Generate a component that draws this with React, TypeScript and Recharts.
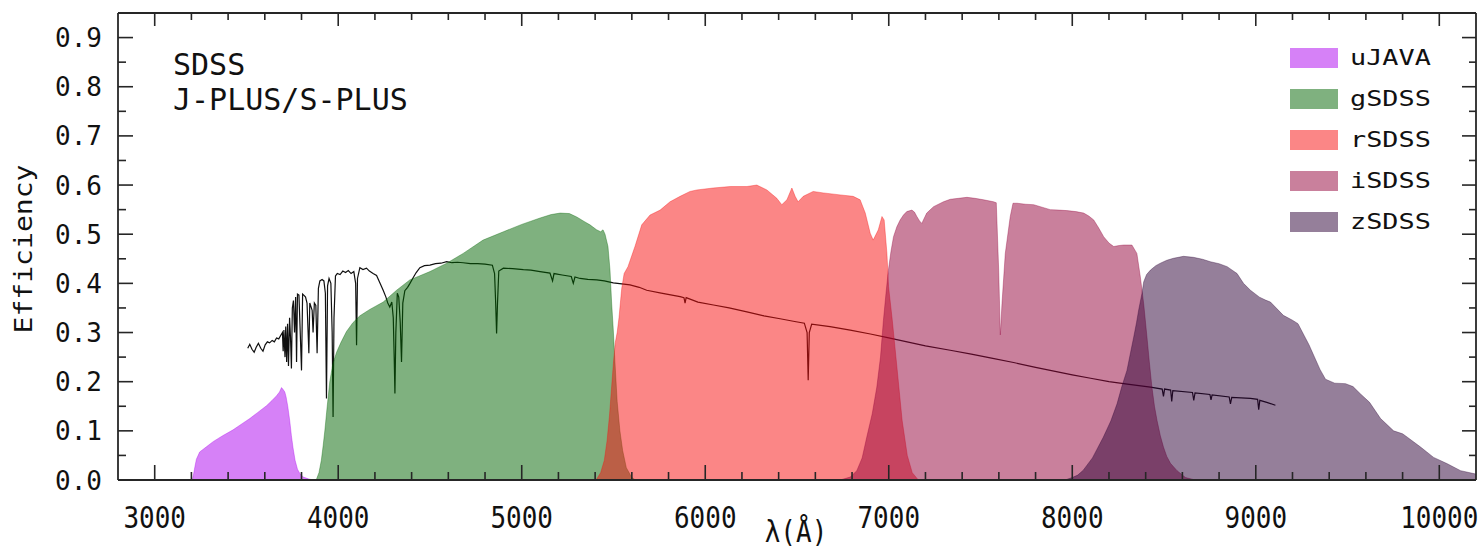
import React from 'react';
import { ComposedChart, Area, Line, XAxis, YAxis, Legend } from 'recharts';

const FONT = '"DejaVu Sans Mono", "Liberation Mono", monospace';
const INK = '#111111';
const FRAME = '#262626';

// Chart box: plot frame runs from (118, 13) to (1476, 480)
const CHART_W = 1483;
const CHART_H = 548;
const PLOT_TOP = 13;
const PLOT_RIGHT = 1476;

// Filter transmission curves: [wavelength (Å), efficiency]
const uJAVA: [number, number][] = [
  [3205, 0], [3212, 0.012], [3218, 0.025], [3227, 0.042], [3245, 0.057], [3280, 0.067], [3318, 0.078],
  [3370, 0.09], [3427, 0.102], [3470, 0.113], [3518, 0.125], [3560, 0.137], [3609, 0.151], [3640, 0.162],
  [3663, 0.171], [3680, 0.179], [3691, 0.188], [3700, 0.184], [3709, 0.179], [3716, 0.169], [3725, 0.15],
  [3736, 0.12], [3745, 0.09], [3754, 0.065], [3765, 0.04], [3778, 0.022], [3791, 0.013], [3810, 0.006],
  [3840, 0.002], [3865, 0],
];

const gSDSS: [number, number][] = [
  [3880, 0], [3895, 0.015], [3908, 0.04], [3918, 0.07], [3927, 0.1], [3940, 0.15], [3954, 0.2], [3970, 0.235],
  [3991, 0.26], [4015, 0.28], [4045, 0.302], [4080, 0.32], [4118, 0.334], [4172, 0.347], [4245, 0.362],
  [4318, 0.386], [4390, 0.407], [4500, 0.424], [4591, 0.441], [4681, 0.461], [4789, 0.488], [4900, 0.505],
  [5000, 0.52], [5100, 0.533], [5160, 0.54], [5210, 0.543], [5260, 0.542], [5300, 0.535], [5340, 0.526],
  [5372, 0.519], [5408, 0.509], [5430, 0.505], [5443, 0.509], [5454, 0.5], [5470, 0.475], [5481, 0.427],
  [5490, 0.36], [5499, 0.305], [5508, 0.24], [5520, 0.16], [5535, 0.1], [5550, 0.06], [5570, 0.025],
  [5600, 0.005], [5620, 0],
];

const rSDSS: [number, number][] = [
  [5405, 0], [5430, 0.015], [5450, 0.04], [5465, 0.08], [5478, 0.13], [5490, 0.19], [5500, 0.24], [5510, 0.28],
  [5520, 0.3], [5530, 0.33], [5545, 0.39], [5558, 0.42], [5579, 0.434], [5617, 0.475], [5654, 0.519],
  [5699, 0.539], [5754, 0.549], [5808, 0.566], [5863, 0.577], [5917, 0.587], [5954, 0.59], [6043, 0.594],
  [6136, 0.597], [6227, 0.597], [6281, 0.6], [6336, 0.59], [6390, 0.573], [6417, 0.56], [6445, 0.57],
  [6472, 0.594], [6490, 0.577], [6506, 0.566], [6534, 0.577], [6588, 0.587], [6643, 0.584], [6735, 0.58],
  [6806, 0.577], [6844, 0.57], [6872, 0.543], [6899, 0.502], [6915, 0.488], [6943, 0.509], [6963, 0.536],
  [6975, 0.529], [6990, 0.461], [6999, 0.393], [7019, 0.326], [7046, 0.224], [7073, 0.121], [7101, 0.05],
  [7128, 0.015], [7161, 0],
];

const iSDSS: [number, number][] = [
  [6735, 0], [6790, 0.006], [6826, 0.019], [6855, 0.045], [6880, 0.087], [6910, 0.135], [6935, 0.189],
  [6955, 0.25], [6971, 0.325], [6985, 0.38], [6998, 0.427], [7012, 0.465], [7026, 0.495], [7044, 0.515],
  [7062, 0.529], [7080, 0.539], [7098, 0.546], [7126, 0.549], [7140, 0.545], [7153, 0.536], [7168, 0.527],
  [7180, 0.522], [7194, 0.533], [7207, 0.543], [7244, 0.556], [7298, 0.566], [7335, 0.571], [7380, 0.573],
  [7426, 0.575], [7470, 0.573], [7517, 0.57], [7571, 0.566], [7586, 0.564], [7599, 0.427], [7608, 0.295],
  [7617, 0.359], [7635, 0.461], [7662, 0.536], [7677, 0.563], [7699, 0.563], [7745, 0.561], [7790, 0.56],
  [7835, 0.555], [7880, 0.55], [7930, 0.549], [7971, 0.548], [8020, 0.546], [8062, 0.543], [8090, 0.537],
  [8117, 0.529], [8145, 0.512], [8171, 0.495], [8200, 0.482], [8226, 0.475], [8255, 0.477], [8280, 0.478],
  [8325, 0.478], [8352, 0.461], [8371, 0.413], [8389, 0.359], [8407, 0.291], [8420, 0.24], [8434, 0.189],
  [8448, 0.15], [8462, 0.121], [8480, 0.09], [8497, 0.067], [8515, 0.048], [8535, 0.034], [8571, 0.019],
  [8617, 0.005], [8671, 0],
];

const zSDSS: [number, number][] = [
  [7960, 0], [8000, 0.005], [8030, 0.01], [8060, 0.02], [8110, 0.045], [8169, 0.087], [8210, 0.12],
  [8244, 0.155], [8270, 0.19], [8298, 0.223], [8318, 0.26], [8335, 0.291], [8350, 0.32], [8362, 0.346],
  [8380, 0.38], [8389, 0.403], [8405, 0.418], [8426, 0.427], [8455, 0.436], [8480, 0.441], [8515, 0.447],
  [8551, 0.451], [8606, 0.455], [8660, 0.453], [8710, 0.449], [8753, 0.444], [8800, 0.44], [8844, 0.434],
  [8898, 0.42], [8933, 0.4], [8971, 0.386], [9020, 0.372], [9053, 0.366], [9080, 0.362], [9150, 0.335],
  [9200, 0.325], [9230, 0.318], [9290, 0.275], [9350, 0.225], [9380, 0.205], [9430, 0.197], [9489, 0.196],
  [9530, 0.19], [9571, 0.175], [9620, 0.158], [9680, 0.125], [9751, 0.1], [9800, 0.094], [9826, 0.087],
  [9898, 0.067], [9969, 0.046], [10044, 0.033], [10116, 0.019], [10200, 0.012],
];

// Stellar spectrum overlaid on the filters: [wavelength (Å), scaled flux]
const spectrum: [number, number][] = [
  [3507, 0.268], [3518, 0.276], [3530, 0.266], [3542, 0.26], [3553, 0.27], [3565, 0.278], [3578, 0.268],
  [3590, 0.262], [3602, 0.275], [3614, 0.281], [3626, 0.279], [3640, 0.284], [3652, 0.281], [3664, 0.289],
  [3676, 0.287], [3688, 0.295], [3696, 0.3], [3700, 0.262], [3704, 0.305], [3710, 0.25], [3714, 0.312],
  [3719, 0.24], [3724, 0.318], [3729, 0.232], [3735, 0.33], [3740, 0.29], [3745, 0.227], [3750, 0.35],
  [3756, 0.365], [3762, 0.3], [3768, 0.372], [3773, 0.24], [3778, 0.378], [3786, 0.376], [3793, 0.3],
  [3800, 0.223], [3806, 0.378], [3815, 0.375], [3822, 0.372], [3830, 0.36], [3836, 0.3], [3840, 0.258],
  [3845, 0.36], [3852, 0.352], [3858, 0.345], [3863, 0.3], [3870, 0.36], [3878, 0.355], [3885, 0.258],
  [3892, 0.39], [3900, 0.405], [3912, 0.408], [3922, 0.405], [3930, 0.38], [3936, 0.166], [3942, 0.395],
  [3950, 0.41], [3960, 0.4], [3967, 0.3], [3972, 0.128], [3977, 0.33], [3985, 0.415], [3995, 0.42],
  [4010, 0.418], [4025, 0.425], [4040, 0.422], [4055, 0.426], [4070, 0.42], [4085, 0.424], [4095, 0.4],
  [4100, 0.274], [4105, 0.41], [4118, 0.432], [4135, 0.428], [4154, 0.431], [4170, 0.425], [4190, 0.42],
  [4209, 0.416], [4228, 0.4], [4245, 0.386], [4260, 0.372], [4270, 0.36], [4281, 0.352], [4292, 0.362],
  [4300, 0.33], [4305, 0.25], [4309, 0.176], [4314, 0.3], [4322, 0.38], [4330, 0.372], [4338, 0.32],
  [4345, 0.24], [4352, 0.36], [4363, 0.385], [4378, 0.392], [4391, 0.4], [4409, 0.412], [4425, 0.422],
  [4445, 0.432], [4470, 0.436], [4500, 0.437], [4530, 0.44], [4560, 0.441], [4591, 0.444], [4620, 0.442],
  [4650, 0.443], [4681, 0.442], [4720, 0.44], [4760, 0.44], [4800, 0.439], [4840, 0.437], [4852, 0.42],
  [4858, 0.36], [4863, 0.298], [4868, 0.36], [4875, 0.425], [4900, 0.431], [4950, 0.43], [5009, 0.428],
  [5050, 0.427], [5100, 0.424], [5154, 0.421], [5168, 0.405], [5176, 0.42], [5220, 0.417], [5270, 0.414],
  [5281, 0.4], [5290, 0.413], [5318, 0.41], [5360, 0.408], [5409, 0.407], [5450, 0.405], [5499, 0.401],
  [5545, 0.399], [5590, 0.397], [5640, 0.392], [5681, 0.386], [5760, 0.38], [5863, 0.373], [5884, 0.371],
  [5890, 0.36], [5896, 0.371], [5960, 0.362], [6045, 0.356], [6130, 0.35], [6227, 0.342], [6320, 0.334],
  [6408, 0.328], [6480, 0.323], [6540, 0.319], [6555, 0.3], [6561, 0.203], [6567, 0.3], [6580, 0.317],
  [6680, 0.312], [6790, 0.305], [6900, 0.297], [7000, 0.289], [7100, 0.281], [7200, 0.273], [7335, 0.264],
  [7450, 0.256], [7560, 0.248], [7680, 0.239], [7800, 0.229], [7880, 0.223], [8000, 0.214], [8100, 0.207],
  [8200, 0.2], [8300, 0.195], [8426, 0.189], [8490, 0.185], [8497, 0.17], [8503, 0.185], [8536, 0.183],
  [8542, 0.16], [8548, 0.182], [8655, 0.178], [8662, 0.162], [8669, 0.177], [8750, 0.174], [8756, 0.163],
  [8762, 0.173], [8855, 0.169], [8862, 0.155], [8869, 0.168], [8971, 0.166], [9010, 0.164], [9016, 0.143],
  [9022, 0.162], [9060, 0.158], [9107, 0.152],
];

const filterNames = ['uJAVA', 'gSDSS', 'rSDSS', 'iSDSS', 'zSDSS'];
const filterCurves = [uJAVA, gSDSS, rSDSS, iSDSS, zSDSS];
const filterColors: Record<string, string> = {
  uJAVA: '#ad03ef',
  gSDSS: '#006400',
  rSDSS: '#f70d0d',
  iSDSS: '#930139',
  zSDSS: '#2b0035',
};

// Axis ticks
const xTicks = [
  3000, 3200, 3400, 3600, 3800, 4000, 4200, 4400, 4600, 4800, 5000, 5200, 5400, 5600, 5800, 6000, 6200,
  6400, 6600, 6800, 7000, 7200, 7400, 7600, 7800, 8000, 8200, 8400, 8600, 8800, 9000, 9200, 9400, 9600,
  9800, 10000,
];
const xLabels = [3000, 4000, 5000, 6000, 7000, 8000, 9000, 10000];
const yTicks = [0, 0.05, 0.1, 0.15, 0.2, 0.25, 0.3, 0.35, 0.4, 0.45, 0.5, 0.55, 0.6, 0.65, 0.7, 0.75, 0.8, 0.85, 0.9];
const yLabels = ['0.0', '0.1', '0.2', '0.3', '0.4', '0.5', '0.6', '0.7', '0.8', '0.9'];

const toRows = (curve: [number, number][]) => curve.map(([w, v]) => ({ w, v }));

const isMajorY = (v: number) => Math.round(v * 100) % 10 === 0;

// Bottom axis tick: inward tick on the bottom edge, mirrored on the top edge, plus label
const BottomTick = (props: any) => {
  const { x, y, payload } = props;
  const v = payload.value as number;
  const major = xLabels.includes(v);
  return (
    <g>
      <line x1={x} y1={y} x2={x} y2={y - (major ? 15 : 8)} stroke={FRAME} strokeWidth={1.6} />
      <line x1={x} y1={PLOT_TOP} x2={x} y2={PLOT_TOP + (major ? 13 : 7)} stroke={FRAME} strokeWidth={1.6} />
      {major && (
        <text
          transform={`translate(${x},${y + 47.5}) scale(1,1.15)`}
          textAnchor="middle"
          fontFamily={FONT}
          fontSize={26}
          fill={INK}
        >
          {v}
        </text>
      )}
    </g>
  );
};

// Left axis tick: inward tick on the left edge, mirrored on the right edge, plus label
const LeftTick = (props: any) => {
  const { x, y, payload } = props;
  const v = payload.value as number;
  const major = isMajorY(v);
  return (
    <g>
      <line x1={x} y1={y} x2={x + (major ? 15 : 8)} y2={y} stroke={FRAME} strokeWidth={1.6} />
      <line x1={PLOT_RIGHT} y1={y} x2={PLOT_RIGHT - (major ? 14 : 7)} y2={y} stroke={FRAME} strokeWidth={1.6} />
      {major && (
        <text x={x - 16} y={y + 9.5} textAnchor="end" fontFamily={FONT} fontSize={26} fill={INK}>
          {yLabels[Math.round(v * 10)]}
        </text>
      )}
    </g>
  );
};

const FilterLegend = (props: any) => {
  const items = (props.payload || [])
    .filter((p: any) => filterColors[p.value])
    .sort((a: any, b: any) => filterNames.indexOf(a.value) - filterNames.indexOf(b.value));
  return (
    <div style={{ position: 'relative', width: 190, height: 200 }}>
      {items.map((p: any, i: number) => (
        <div key={p.value} style={{ position: 'absolute', left: 0, top: i * 41.1, height: 20, width: 190 }}>
          <div
            style={{
              position: 'absolute',
              left: 0,
              top: 0,
              width: 48,
              height: 20,
              background: filterColors[p.value],
              opacity: 0.5,
            }}
          />
          <div
            style={{
              position: 'absolute',
              left: 60,
              top: -2,
              fontFamily: FONT,
              fontSize: 22,
              lineHeight: '24px',
              color: INK,
              whiteSpace: 'nowrap',
              transform: 'scaleX(1.22)',
              transformOrigin: 'left center',
            }}
          >
            {p.value}
          </div>
        </div>
      ))}
    </div>
  );
};

export default function App() {
  return (
    <div style={{ position: 'absolute', left: 0, top: 0, width: CHART_W, height: CHART_H, background: '#ffffff' }}>
      <ComposedChart
        width={CHART_W}
        height={CHART_H}
        margin={{ top: PLOT_TOP - 1, right: CHART_W - PLOT_RIGHT - 1, bottom: 0, left: 0 }}
      >
        <XAxis
          xAxisId="bottom"
          dataKey="w"
          type="number"
          domain={[2800, 10200]}
          allowDataOverflow
          ticks={xTicks}
          interval={0}
          height={68}
          tickSize={0}
          tickMargin={0}
          tick={BottomTick}
          axisLine={{ stroke: FRAME, strokeWidth: 1.8 }}
          tickLine={false}
        />
        <XAxis
          xAxisId="top"
          orientation="top"
          dataKey="w"
          type="number"
          domain={[2800, 10200]}
          allowDataOverflow
          height={1}
          tick={false}
          tickLine={false}
          axisLine={{ stroke: FRAME, strokeWidth: 1.8 }}
        />
        <YAxis
          yAxisId="left"
          type="number"
          domain={[0, 0.95]}
          allowDataOverflow
          ticks={yTicks}
          interval={0}
          width={118}
          tickSize={0}
          tickMargin={0}
          tick={LeftTick}
          axisLine={{ stroke: FRAME, strokeWidth: 1.8 }}
          tickLine={false}
        />
        <YAxis
          yAxisId="right"
          orientation="right"
          type="number"
          domain={[0, 0.95]}
          allowDataOverflow
          width={1}
          tick={false}
          tickLine={false}
          axisLine={{ stroke: FRAME, strokeWidth: 1.8 }}
        />
        {/* the spectrum sits on the top/right axes, which share the bottom/left domains */}
        <Line
          xAxisId="top"
          yAxisId="right"
          data={toRows(spectrum)}
          dataKey="v"
          name="spectrum"
          type="linear"
          stroke="#101010"
          strokeWidth={1.2}
          dot={false}
          activeDot={false}
          legendType="none"
          isAnimationActive={false}
          zIndex={50}
        />
        {filterNames.map((name, i) => (
          <Area
            key={name}
            xAxisId="bottom"
            yAxisId="left"
            data={toRows(filterCurves[i])}
            dataKey="v"
            name={name}
            type="linear"
            fill={filterColors[name]}
            fillOpacity={0.5}
            stroke={filterColors[name]}
            strokeOpacity={0.35}
            strokeWidth={1}
            dot={false}
            activeDot={false}
            isAnimationActive={false}
          />
        ))}
        <Legend
          layout="horizontal"
          verticalAlign="middle"
          align="center"
          content={FilterLegend}
          wrapperStyle={{ position: 'absolute', left: 1290, top: 48, right: 'auto', bottom: 'auto', width: 190, height: 200 }}
        />
        <text x={173} y={75} fontFamily={FONT} fontSize={30} fill={INK}>
          SDSS
        </text>
        <text x={173} y={110} fontFamily={FONT} fontSize={30} fill={INK}>
          J-PLUS/S-PLUS
        </text>
        <text
          transform="translate(32,249) rotate(-90) scale(1.17,1)"
          textAnchor="middle"
          fontFamily={FONT}
          fontSize={24}
          fill={INK}
        >
          Efficiency
        </text>
        <text
          transform="translate(796,542) scale(1,1.15)"
          textAnchor="middle"
          fontFamily={FONT}
          fontSize={26}
          fill={INK}
        >
          λ(Å)
        </text>
      </ComposedChart>
    </div>
  );
}
